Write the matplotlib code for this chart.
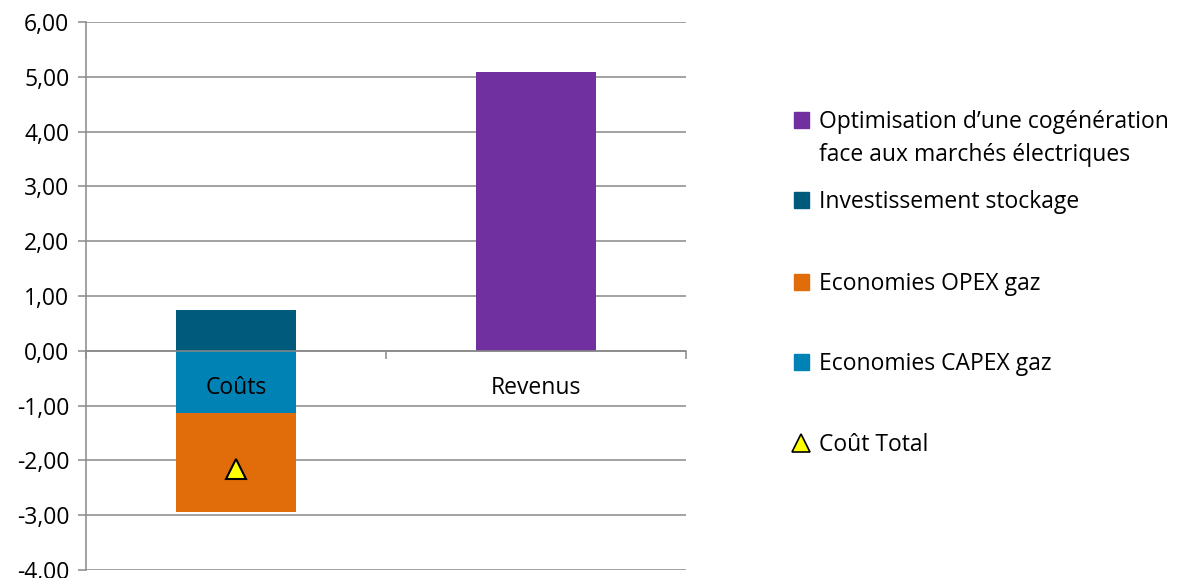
import matplotlib.pyplot as plt
from matplotlib.patches import Patch
from matplotlib.lines import Line2D
from matplotlib.ticker import FuncFormatter, FixedLocator

plt.rcParams['font.family'] = ['Open Sans', 'DejaVu Sans']

categories = ["Coûts", "Revenus"]
stockage = [0.75, 0.0]
capex = [-1.13, 0.0]
opex = [-1.81, 0.0]
optimisation = [0.0, 5.09]
cout_total = [-2.15]

labels = ["Optimisation d\u2019une cogénération", "face aux marchés électriques",
          "Investissement stockage", "Economies OPEX gaz",
          "Economies CAPEX gaz", "Coût Total"]
colors = {"optim": "#7030A0", "stock": "#005A7C",
          "opex": "#E06C0A", "capex": "#0082B4"}

fig = plt.figure(figsize=(11.82, 5.78), dpi=100)
ax = fig.add_axes([86 / 1182, 8 / 578, 600 / 1182, 548 / 578])

x = list(range(len(categories)))
w = 0.4
ax.bar(x, stockage, w, color=colors["stock"], zorder=2)
ax.bar(x, capex, w, color=colors["capex"], zorder=2)
ax.bar(x, opex, w, bottom=capex, color=colors["opex"], zorder=2)
ax.bar(x, optimisation, w, color=colors["optim"], zorder=2)
ax.plot([0], cout_total, linestyle="none", marker="^", markersize=15,
        markerfacecolor="#FFFF00", markeredgecolor="black",
        markeredgewidth=1.5, zorder=4)

grey = "#898989"
ax.set_ylim(-4, 6)
ax.set_xlim(-0.5, 1.5)
ax.set_yticks(range(-4, 7))
ax.yaxis.set_major_formatter(FuncFormatter(lambda v, p: f"{v:.2f}".replace(".", ",")))
ax.grid(axis="y", color=grey, linewidth=1.1)
ax.set_axisbelow(True)
ax.xaxis.set_zorder(5)  # category labels drawn over the bars

for s in ["top", "right"]:
    ax.spines[s].set_visible(False)
ax.spines["left"].set_color(grey)
ax.spines["left"].set_linewidth(1.1)
ax.spines["bottom"].set_position(("data", 0))
ax.spines["bottom"].set_color(grey)
ax.spines["bottom"].set_linewidth(1.1)
ax.spines["bottom"].set_zorder(3)

ax.xaxis.set_major_locator(FixedLocator([-0.5, 0.5, 1.5]))
ax.xaxis.set_minor_locator(FixedLocator(x))
ax.set_xticklabels([], minor=False)
ax.set_xticklabels(categories, minor=True)
ax.tick_params(axis="x", which="major", length=6, color=grey, width=1.1)
ax.tick_params(axis="x", which="minor", length=0, pad=18, labelsize=16.5)
ax.tick_params(axis="y", length=6, color=grey, width=1.1, labelsize=16.5, pad=6)

handles = [Patch(color=colors["optim"]), Patch(alpha=0),
           Patch(color=colors["stock"]),
           Patch(color=colors["opex"]), Patch(color=colors["capex"]),
           Line2D([], [], linestyle="none", marker="^", markersize=13,
                  markerfacecolor="#FFFF00", markeredgecolor="black",
                  markeredgewidth=1.2)]
ypos = [119, 152, 199, 281, 361, 442]
for h, lab, yp in zip(handles, labels, ypos):
    fig.legend([h], [lab], loc="upper left", frameon=False, fontsize=16.5,
               handlelength=0.65, handleheight=0.65, handletextpad=0.45,
               borderpad=0, borderaxespad=0,
               bbox_to_anchor=(794 / 1182, 1 - (yp - 9) / 578))

fig.savefig("out.png", dpi=100)
